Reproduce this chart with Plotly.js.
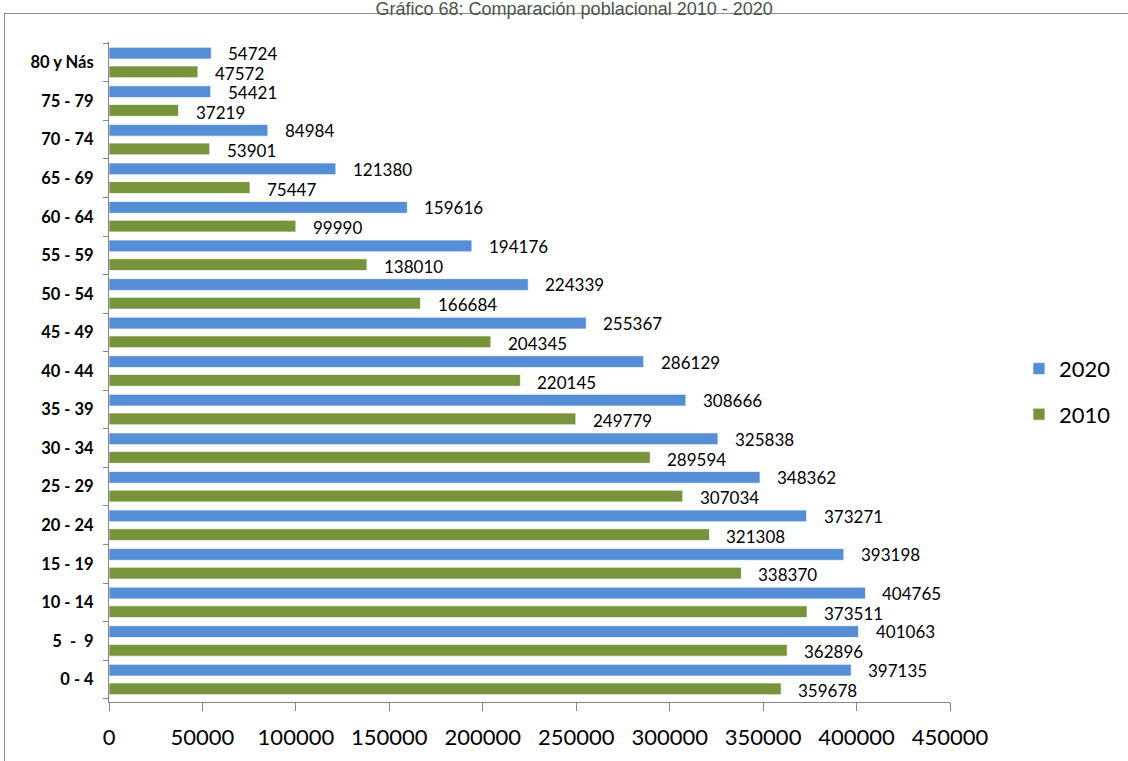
<!DOCTYPE html>
<html>
<head>
<meta charset="utf-8">
<script src="https://cdn.plot.ly/plotly-3.0.1.min.js"></script>
<style>
html,body{margin:0;padding:0;background:#fff;overflow:hidden;}
#frame{position:absolute;left:4px;top:13px;width:1200px;height:800px;border:1px solid #8c8c8c;box-sizing:border-box;}
#chart{position:absolute;left:0;top:0;width:1128px;height:761px;}
</style>
</head>
<body>
<div id="frame"></div>
<div id="chart"></div>
<script>
var categories = ["0 - 4","5  -  9","10 - 14","15 - 19","20 - 24","25 - 29","30 - 34","35 - 39","40 - 44","45 - 49","50 - 54","55 - 59","60 - 64","65 - 69","70 - 74","75 - 79","80 y Nás"];
var values2020 = [397135,401063,404765,393198,373271,348362,325838,308666,286129,255367,224339,194176,159616,121380,84984,54421,54724];
var values2010 = [359678,362896,373511,338370,321308,307034,289594,249779,220145,204345,166684,138010,99990,75447,53901,37219,47572];
var xTicks = [0,50000,100000,150000,200000,250000,300000,350000,400000,450000];

var labelFont = {family:"Lato, 'Open Sans', sans-serif", size:17, color:"#000"};

var t2010 = {
  type:"bar", orientation:"h", name:"2010", y:categories, x:values2010,
  marker:{color:"#77933c", line:{color:"rgba(255,255,255,0.7)", width:1}},
  legendgroup:"a", legendrank:2, hoverinfo:"skip"
};
var t2020 = {
  type:"bar", orientation:"h", name:"2020", y:categories, x:values2020,
  marker:{color:"#558ed5", line:{color:"rgba(255,255,255,0.7)", width:1}},
  legendgroup:"b", legendrank:1, hoverinfo:"skip"
};

var annotations = [];
for (var i = 0; i < categories.length; i++) {
  annotations.push({x:values2020[i], y:categories[i], xref:"x", yref:"y", text:String(values2020[i]),
    showarrow:false, xanchor:"left", yanchor:"middle", xshift:16, yshift:9, borderpad:0, font:labelFont});
  annotations.push({x:values2010[i], y:categories[i], xref:"x", yref:"y", text:String(values2010[i]),
    showarrow:false, xanchor:"left", yanchor:"middle", xshift:16, yshift:-11, borderpad:0, font:labelFont});
}

var layout = {
  width:1128, height:761,
  paper_bgcolor:"rgba(0,0,0,0)", plot_bgcolor:"rgba(0,0,0,0)",
  margin:{l:109, r:173, t:42, b:59},
  barmode:"group", bargap:0.03, bargroupgap:0.37,
  title:{text:"Gráfico 68: Comparación poblacional 2010 - 2020", x:0.509, xanchor:"center",
    y:0.988, yref:"container", yanchor:"middle",
    font:{family:"'Liberation Sans', Arial, sans-serif", size:18, color:"#4a564a"}},
  xaxis:{range:[0,450000], tickvals:xTicks, ticktext:xTicks.map(String), showgrid:false, zeroline:false,
    showline:true, linecolor:"#868686", linewidth:1, ticks:"outside", ticklen:8, tickcolor:"#868686",
    tickfont:{family:"Lato, 'Open Sans', sans-serif", size:22, color:"#000"}, ticklabelstandoff:8, fixedrange:true},
  yaxis:{type:"category", categoryorder:"array", categoryarray:categories, showgrid:false, zeroline:false,
    showline:true, linecolor:"#868686", linewidth:1, ticks:"outside", ticklen:5, tickcolor:"#868686",
    tickson:"boundaries", ticklabelstandoff:11,
    tickfont:{family:"Lato, 'Open Sans', sans-serif", size:16.5, color:"#000", weight:"bold"}, fixedrange:true},
  showlegend:true,
  legend:{x:1.082, xanchor:"left", y:0.47, yanchor:"middle", traceorder:"grouped", tracegroupgap:14,
    font:{family:"Lato, 'Open Sans', sans-serif", size:22, color:"#000"}, bgcolor:"rgba(0,0,0,0)",
    itemwidth:30},
  annotations:annotations
};

Plotly.newPlot("chart", [t2010, t2020], layout, {displayModeBar:false, staticPlot:true});
</script>
</body>
</html>
